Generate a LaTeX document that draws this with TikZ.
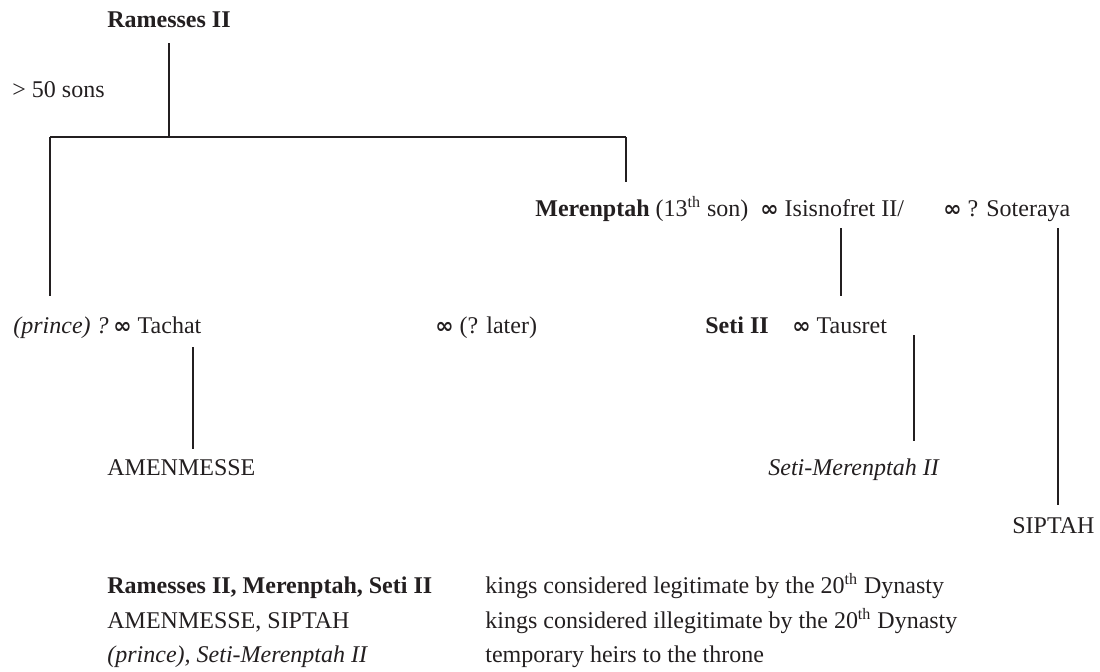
\documentclass[tikz,border=0pt]{standalone}
\usepackage{amsmath,amssymb}
\usepackage{fontspec}
\setmainfont{Liberation Serif}
\newfontfamily\wedfont{DejaVu Sans}
\usepackage{tikz}
\usetikzlibrary{calc}
\definecolor{ink}{HTML}{231F20}
\tikzset{
  link/.style={draw=ink, line width=0.9pt},
  who/.style={text=ink, font=\fontsize{12}{14}\selectfont, inner sep=0pt, anchor=base west},
  king/.style={who, font=\fontsize{12}{14}\selectfont\bfseries},
  heir/.style={who, font=\fontsize{12}{14}\selectfont\itshape},
}
\newcommand{\wed}{{\wedfont\bfseries\fontsize{11}{12}\selectfont ∞}}
\newcommand{\nth}{\textsuperscript{th}}

\begin{document}
\begin{tikzpicture}[x=0.5pt, y=-0.5pt]
  \useasboundingbox (0,0) rectangle (1100,671);

  % generation 1
  \node[king, anchor=base] (rams) at (169,27) {Ramesses II};
  \node[who] (sons) at (12,97) {> 50 sons};
  \coordinate (barL) at (50,137);
  \coordinate (barM) at (169,137);
  \coordinate (barR) at (626,137);

  % generation 2
  \node[king] (mer) at (535,216) {Merenptah \mdseries(13\nth\ son)};
  \node[who] (isis) at (760,216) {\wed\ Isisnofret II/};
  \node[who] (sot) at (943,216) {\wed\ ? Soteraya};
  \node[heir] (prince) at (13,333) {(prince) ?};
  \node[who] (tachat) at (113,333) {\wed\ Tachat};
  \node[who] (later) at (435,333) {\wed\ (? later)};

  % generation 3
  \node[king] (seti) at (705,333) {Seti II};
  \node[who] (taus) at (792,333) {\wed\ Tausret};
  \node[who] (amen) at (107,475) {AMENMESSE};
  \node[heir] (setim) at (768,475) {Seti-Merenptah II};
  \node[who] (sip) at (1012,533) {SIPTAH};

  % lines of descent
  \coordinate (isisX) at (841,0);
  \coordinate (sotX) at (1058,0);
  \coordinate (tachX) at (193,0);
  \coordinate (tausX) at (914,0);
  \draw[link] ([yshift=-8]rams.base) -- (barM);
  \draw[link] (barL) -- (barR);
  \draw[link] (barL) -- ($(barL |- prince.north)+(0,-20)$);
  \draw[link] (barR) -- ($(barR |- mer.north)+(0,-14)$);
  \draw[link] ($(isisX |- isis.base)+(0,12)$) -- ($(isisX |- seti.north)+(0,-20)$);
  \draw[link] ($(sotX |- sot.base)+(0,12)$) -- ($(sotX |- sip.north)+(0,-12)$);
  \draw[link] ($(tachX |- tachat.base)+(0,14)$) -- ($(tachX |- amen.north)+(0,-10)$);
  \draw[link] ($(tausX |- taus.base)+(0,2)$) -- ($(tausX |- setim.north)+(0,-17)$);

  % key
  \node[king] (k1) at (107,593) {Ramesses II, Merenptah, Seti II};
  \node[who] (k2) at (107,628) {AMENMESSE, SIPTAH};
  \node[heir] (k3) at (107,662) {(prince), Seti-Merenptah II};
  \node[who] (d1) at (485,593) {kings considered legitimate by the 20\nth\ Dynasty};
  \node[who] (d2) at (485,628) {kings considered illegitimate by the 20\nth\ Dynasty};
  \node[who] (d3) at (485,662) {temporary heirs to the throne};
\end{tikzpicture}
\end{document}
